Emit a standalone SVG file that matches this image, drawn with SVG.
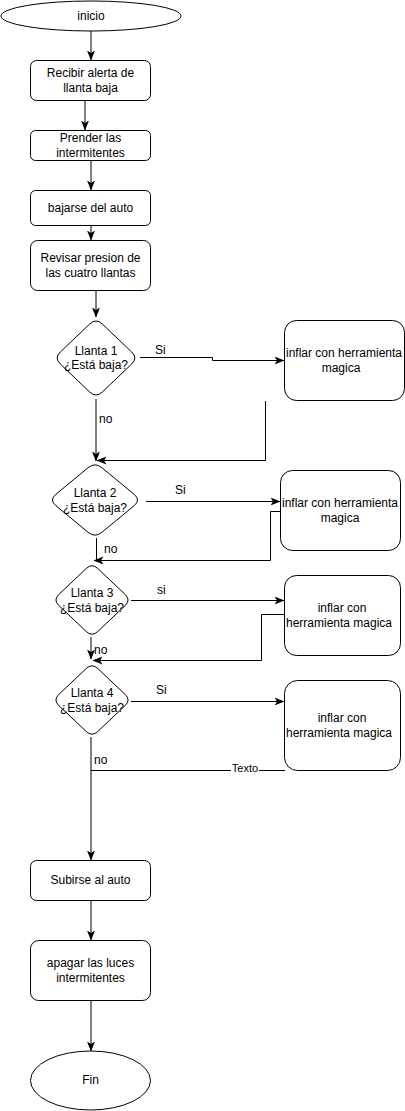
<svg xmlns="http://www.w3.org/2000/svg" width="405" height="1111" viewBox="0 0 405 1111">
<style>
.n{fill:#fff;stroke:#000;stroke-width:1}
.t{font-family:"Liberation Sans",Arial,sans-serif;font-size:12px;fill:#000;text-anchor:middle;dominant-baseline:central}
.l{font-family:"Liberation Sans",Arial,sans-serif;font-size:12px;fill:#000;dominant-baseline:central}
.c{fill:none;stroke:#000;stroke-width:1}
</style>
<defs>
<marker id="a" markerUnits="userSpaceOnUse" markerWidth="10" markerHeight="10" viewBox="0 0 10 10" refX="9.5" refY="5" orient="auto">
<path d="M0,1 L10,5 L0,9 L2.5,5 Z" fill="#000"/>
</marker>
</defs>
<rect width="405" height="1111" fill="#fff"/>
<g id="connectors">
<path class="c" d="M91,31 L91,60" marker-end="url(#a)"/>
<path class="c" d="M85,101 L85,130" marker-end="url(#a)"/>
<path class="c" d="M91,161 L91,190" marker-end="url(#a)"/>
<path class="c" d="M91,226 L91,240" marker-end="url(#a)"/>
<path class="c" d="M96,291 L96,317" marker-end="url(#a)"/>
<path class="c" d="M140,357.5 L212.5,357.5 L212.5,360.5 L284,360.5" marker-end="url(#a)"/>
<path class="c" d="M96,399 L96,461" marker-end="url(#a)"/>
<path class="c" d="M265.5,401 L265.5,460.5 L97,460.5" marker-end="url(#a)"/>
<path class="c" d="M146,501.5 L280,501.5" marker-end="url(#a)"/>
<path class="c" d="M281,511.5 L270.5,511.5 L270.5,560.5 L94,560.5" marker-end="url(#a)"/>
<path class="c" d="M96.5,538 L96.5,560"/>
<path class="c" d="M131,600.5 L284,600.5" marker-end="url(#a)"/>
<path class="c" d="M285,614.5 L261.5,614.5 L261.5,660.5 L93,660.5" marker-end="url(#a)"/>
<path class="c" d="M91,637 L91,659" marker-end="url(#a)"/>
<path class="c" d="M131,701.5 L284,701.5" marker-end="url(#a)"/>
<path class="c" d="M285,770.5 L91,770.5"/>
<path class="c" d="M91,737 L91,860" marker-end="url(#a)"/>
<path class="c" d="M91,901 L91,940" marker-end="url(#a)"/>
<path class="c" d="M91,1001 L91,1051" marker-end="url(#a)"/>
<text class="l" x="155" y="350">Si</text>
<text class="l" x="99" y="419">no</text>
<text class="l" x="175" y="490">Si</text>
<text class="l" x="104" y="549">no</text>
<text class="l" x="157" y="590">si</text>
<text class="l" x="94" y="650">no</text>
<text class="l" x="156" y="690">Si</text>
<text class="l" x="94" y="760">no</text>
<rect x="231" y="763" width="28" height="12" fill="#fff"/>
<text class="t" x="245" y="768" style="font-size:11px">Texto</text>
</g>
<g id="inicio"><ellipse class="n" cx="91" cy="16" rx="90" ry="15"/><text class="t" x="91" y="16">inicio</text></g>
<g id="recibir"><rect class="n" x="30.5" y="60.5" width="120" height="40" rx="6"/><text class="t" x="90.5" y="73">Recibir alerta de</text><text class="t" x="90.5" y="88">llanta baja</text></g>
<g id="prender"><rect class="n" x="30.5" y="130.5" width="120" height="30" rx="5"/><text class="t" x="90.5" y="138">Prender las</text><text class="t" x="90.5" y="153">intermitentes</text></g>
<g id="bajarse"><rect class="n" x="30.5" y="190.5" width="120" height="35" rx="5"/><text class="t" x="90.5" y="208">bajarse del auto</text></g>
<g id="revisar"><rect class="n" x="30.5" y="240.5" width="120" height="50" rx="7"/><text class="t" x="90.5" y="258">Revisar presion de</text><text class="t" x="90.5" y="273">las cuatro llantas</text></g>
<g id="llanta1"><path class="n" d="M102.3,324 L131.7,352 Q138,358 131.7,364 L102.3,392 Q96,398 89.7,392 L60.3,364 Q54,358 60.3,352 L89.7,324 Q96,318 102.3,324 Z"/><text class="t" x="96" y="351">Llanta 1</text><text class="t" x="96" y="365">¿Está baja?</text></g>
<g id="inflar1"><rect class="n" x="284.5" y="320.5" width="120" height="80" rx="12"/><text class="t" x="344" y="353">inflar con herramienta</text><text class="t" x="341" y="368">magica</text></g>
<g id="llanta2"><path class="n" d="M101.9,467.7 L134.1,494.3 Q141,500 134.1,505.7 L101.9,532.3 Q95,538 88.1,532.3 L55.9,505.7 Q49,500 55.9,494.3 L88.1,467.7 Q95,462 101.9,467.7 Z"/><text class="t" x="95" y="493">Llanta 2</text><text class="t" x="95" y="508">¿Está baja?</text></g>
<g id="inflar2"><rect class="n" x="280.5" y="470.5" width="120" height="80" rx="12"/><text class="t" x="340" y="503">inflar con herramienta</text><text class="t" x="340" y="518">magica</text></g>
<g id="llanta3"><path class="n" d="M97.85,568.55 L125.15,594.45 Q131,600 125.15,605.55 L97.85,631.45 Q92,637 86.15,631.45 L58.85,605.55 Q53,600 58.85,594.45 L86.15,568.55 Q92,563 97.85,568.55 Z"/><text class="t" x="92" y="593">Llanta 3</text><text class="t" x="92" y="608">¿Está baja?</text></g>
<g id="inflar3"><rect class="n" x="284.5" y="575.5" width="116" height="80" rx="12"/><text class="t" x="342" y="608">inflar con</text><text class="t" x="339" y="623">herramienta magica</text></g>
<g id="llanta4"><path class="n" d="M97.85,668.55 L125.15,694.45 Q131,700 125.15,705.55 L97.85,731.45 Q92,737 86.15,731.45 L58.85,705.55 Q53,700 58.85,694.45 L86.15,668.55 Q92,663 97.85,668.55 Z"/><text class="t" x="92" y="693">Llanta 4</text><text class="t" x="92" y="708">¿Está baja?</text></g>
<g id="inflar4"><rect class="n" x="284.5" y="680.5" width="116" height="90" rx="13"/><text class="t" x="342" y="718">inflar con</text><text class="t" x="339" y="733">herramienta magica</text></g>
<g id="subirse"><rect class="n" x="30.5" y="860.5" width="120" height="40" rx="6"/><text class="t" x="90.5" y="880">Subirse al auto</text></g>
<g id="apagar"><rect class="n" x="30.5" y="940.5" width="120" height="60" rx="8"/><text class="t" x="90.5" y="963">apagar las luces</text><text class="t" x="90.5" y="978">intermitentes</text></g>
<g id="fin"><ellipse class="n" cx="90.5" cy="1080.5" rx="60" ry="29.5"/><text class="t" x="90.5" y="1080">Fin</text></g>
</svg>
